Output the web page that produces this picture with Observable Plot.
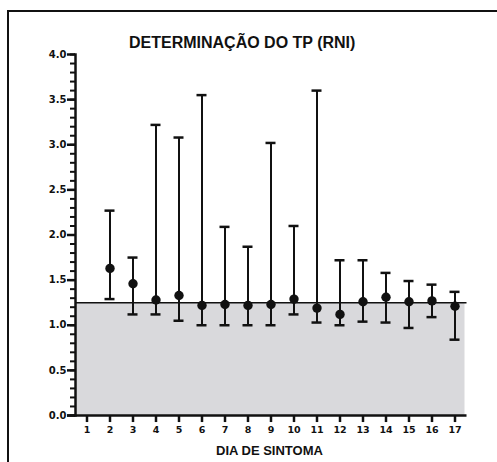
<!DOCTYPE html>
<html>
<head>
<meta charset="utf-8">
<script src="https://cdn.jsdelivr.net/npm/d3@7"></script>
<script src="https://cdn.jsdelivr.net/npm/@observablehq/plot@0.6"></script>
<style>
  body { margin: 0; background: #fff; }
  #wrap { position: relative; width: 497px; height: 462px; overflow: hidden; font-family: "Liberation Sans", Arial, sans-serif; }
  #border { position: absolute; left: 7px; top: 10px; width: 520px; height: 480px; border-top: 2px solid #111; border-left: 2px solid #111; }
  #title { position: absolute; left: 129px; top: 34px; font-size: 16px; line-height: 18px; font-weight: bold; color: #111; white-space: nowrap; }
  #xlabel { position: absolute; left: 216px; top: 443px; font-size: 13px; line-height: 15px; font-weight: bold; color: #111; white-space: nowrap; }
  #chart { position: absolute; left: 0; top: 0; }
</style>
</head>
<body>
<div id="wrap">
  <div id="border"></div>
  <div id="title">DETERMINAÇÃO DO TP (RNI)</div>
  <div id="xlabel">DIA DE SINTOMA</div>
  <div id="chart"></div>
</div>
<script>
const titleText = "DETERMINAÇÃO DO TP (RNI)";
const xTitle = "DIA DE SINTOMA";
const xTicks = [1,2,3,4,5,6,7,8,9,10,11,12,13,14,15,16,17];
const yMajorTicks = [0, 0.5, 1.0, 1.5, 2.0, 2.5, 3.0, 3.5, 4.0];
const yMinorTicks = d3.range(0, 4.001, 0.1);
const refValue = [1.25];

const days  = [2, 3, 4, 5, 6, 7, 8, 9, 10, 11, 12, 13, 14, 15, 16, 17];
const means = [1.63, 1.46, 1.28, 1.33, 1.22, 1.23, 1.22, 1.23, 1.29, 1.19, 1.12, 1.26, 1.31, 1.26, 1.27, 1.21];
const lows  = [1.29, 1.12, 1.12, 1.05, 1.00, 1.00, 1.00, 1.00, 1.12, 1.03, 1.00, 1.04, 1.03, 0.97, 1.09, 0.84];
const highs = [2.27, 1.75, 3.22, 3.08, 3.55, 2.09, 1.87, 3.02, 2.10, 3.60, 1.72, 1.72, 1.58, 1.49, 1.45, 1.37];

const data = days.map((d, i) => ({day: d, mean: means[i], low: lows[i], high: highs[i]}));
const xTickLen = 0.078; // tick length below the axis, in y units

const chart = Plot.plot({
  width: 497,
  height: 462,
  marginLeft: 75,
  marginRight: 30.5,
  marginTop: 54,
  marginBottom: 47,
  style: {fontFamily: "DejaVu Sans", fontWeight: "bold", color: "#111", background: "transparent"},
  x: {type: "band", domain: xTicks, padding: 0, label: null},
  y: {domain: [0, 4], label: null},
  marks: [
    Plot.rect(refValue, {y1: 0, y2: d => d, fill: "#d9d9dc", insetRight: 2}),
    Plot.ruleY(refValue, {stroke: "#111", strokeWidth: 1.6}),
    Plot.ruleX(data, {x: "day", y1: "low", y2: "high", stroke: "#111", strokeWidth: 2}),
    Plot.tickY(data, {x: "day", y: "low", stroke: "#111", strokeWidth: 2.5, inset: 6.5}),
    Plot.tickY(data, {x: "day", y: "high", stroke: "#111", strokeWidth: 2.5, inset: 6.5}),
    Plot.dot(data, {x: "day", y: "mean", r: 4.7, fill: "#111", stroke: "none"}),
    Plot.axisY({ticks: yMinorTicks, tickSize: 5, text: null, stroke: "#111", strokeWidth: 2, label: null}),
    Plot.axisY({ticks: yMajorTicks, tickSize: 8, tickPadding: 1, tickFormat: d3.format(".1f"), stroke: "#111", strokeWidth: 2.5, fontSize: 10, label: null}),
    Plot.ruleX(xTicks, {x: d => d, y1: 0, y2: -xTickLen, stroke: "#111", strokeWidth: 2.5}),
    Plot.axisX({ticks: xTicks, tickSize: 0, tickPadding: 11, fontSize: 9.5, label: null}),
    Plot.ruleY([0], {stroke: "#111", strokeWidth: 2.5, insetLeft: -8}),
    Plot.frame({anchor: "left", stroke: "#111", strokeWidth: 2.5})
  ]
});
document.getElementById("chart").appendChild(chart);
document.getElementById("title").textContent = titleText;
document.getElementById("xlabel").textContent = xTitle;
</script>
</body>
</html>
